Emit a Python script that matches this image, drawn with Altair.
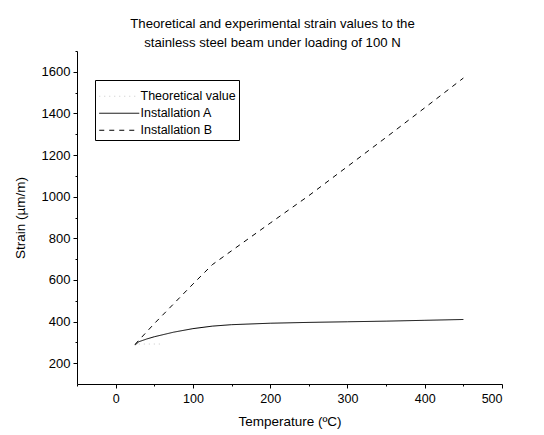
import altair as alt
import pandas as pd

# ---- data ----
series_names = ["Theoretical value", "Installation A", "Installation B"]

temp_theory = [30, 45, 60]
strain_theory = [292, 292, 292]

temp_a = [25, 30, 40, 50, 75, 100, 125, 150, 200, 250, 300, 350, 400, 450]
strain_a = [287, 303, 316, 327, 349, 366, 378, 385, 392, 396, 399, 402, 406, 410]

temp_b = [25, 50, 75, 100, 125, 150, 200, 250, 300, 350, 400, 450]
strain_b = [290, 390, 485, 580, 673, 740, 873, 1005, 1145, 1285, 1427, 1570]

x_ticks = [-50, 0, 50, 100, 150, 200, 250, 300, 350, 400, 450, 500]
y_ticks = [200, 300, 400, 500, 600, 700, 800, 900, 1000, 1100, 1200, 1300, 1400, 1500, 1600, 1700]

rows = []
for name, ts, ss in zip(series_names, [temp_theory, temp_a, temp_b], [strain_theory, strain_a, strain_b]):
    for i, (t, s) in enumerate(zip(ts, ss)):
        rows.append({"series": name, "temp": t, "strain": s, "idx": i})
df = pd.DataFrame(rows)

FONT = "Liberation Sans"

x_axis = alt.Axis(
    title="Temperature (ºC)",
    values=x_ticks,
    format="d",
    labelExpr="(datum.value % 100 === 0 && datum.value >= 0) ? datum.label : ''",
    tickSize={"condition": {"test": "datum.value % 100 === 0", "value": 4}, "value": 2},
    labelPadding=4,
    labelFontSize=12.5,
    titlePadding=10,
    grid=False,
)
y_axis = alt.Axis(
    title="Strain (µm/m)",
    values=y_ticks,
    format="d",
    labelExpr="(datum.value % 200 === 0 && datum.value <= 1600) ? datum.label : ''",
    tickSize={"condition": {"test": "datum.value % 200 === 0", "value": 4}, "value": 2},
    labelPadding=3,
    labelFontSize=13,
    titlePadding=14,
    grid=False,
)

chart = alt.Chart(df).mark_line(strokeWidth=1).encode(
    x=alt.X("temp:Q", scale=alt.Scale(domain=[-50, 500], nice=False, zero=False), axis=x_axis),
    y=alt.Y("strain:Q", scale=alt.Scale(domain=[100, 1700], nice=False, zero=False), axis=y_axis),
    color=alt.Color("series:N",
                    scale=alt.Scale(domain=series_names, range=["#c8c8c8", "#000000", "#000000"]),
                    legend=alt.Legend(title=" ")),
    strokeDash=alt.StrokeDash("series:N",
                              scale=alt.Scale(domain=series_names, range=[[1, 4], [1, 0], [5, 5]]),
                              legend=alt.Legend(title=" ")),
    detail="series:N",
    order="idx:Q",
).properties(
    width=425,
    height=333,
    padding={"left": 69, "top": 43, "right": 34, "bottom": 50},
    autosize=alt.AutoSizeParams(type="none"),
    title=alt.TitleParams(
        ["Theoretical and experimental strain values to the",
         "stainless steel beam under loading of 100 N"],
        fontSize=13.2, fontWeight="normal", font=FONT, color="black",
        anchor="middle", lineHeight=19.5, offset=0, dx=-17,
    ),
).configure_view(
    stroke=None
).configure_axis(
    domainColor="black", tickColor="black", labelColor="black", titleColor="black",
    labelFont=FONT, titleFont=FONT, titleFontSize=13.5,
    titleFontWeight="normal", domainWidth=1, tickWidth=1,
).configure_legend(
    orient="none", legendX=18, legendY=29,
    strokeColor="black", padding=3, fillColor="white",
    titleFontSize=6, titlePadding=1, titleFont=FONT,
    labelFont=FONT, labelFontSize=12.5, labelColor="black",
    symbolType="M-1,0H7", symbolSize=100, symbolStrokeWidth=1,
    rowPadding=4, labelOffset=30,
)

chart.save("out.html", embed_options={"renderer": "svg", "actions": False})
